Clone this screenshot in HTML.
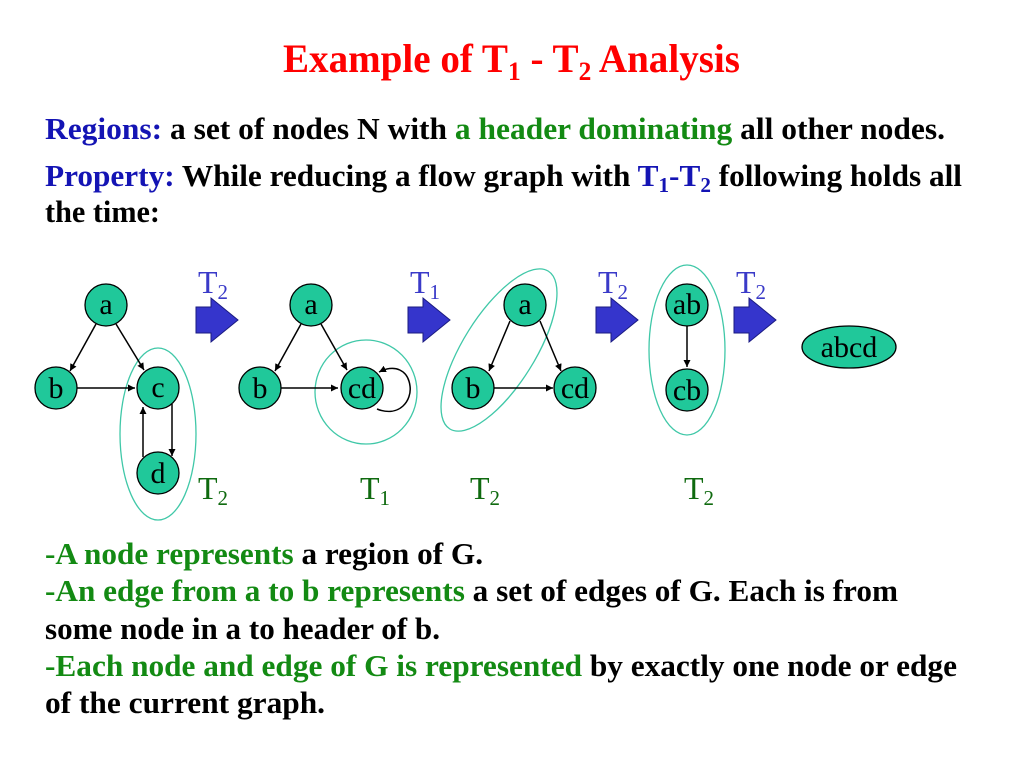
<!DOCTYPE html>
<html><head><meta charset="utf-8"><style>html,body{margin:0;padding:0;background:#fff}svg{display:block}svg text{font-family:"Liberation Serif","Times New Roman",serif}</style></head>
<body>
<svg width="1024" height="768" viewBox="0 0 1024 768" xmlns="http://www.w3.org/2000/svg">
<defs>
<marker id="ah" viewBox="0 0 10 10" refX="10" refY="5" markerWidth="7" markerHeight="7" orient="auto" markerUnits="userSpaceOnUse"><path d="M0,0 L10,5 L0,10 z" fill="#000"/></marker>
<g id="bar"><path d="M0,9 H15 V0 L42,22 L15,44 V35 H0 Z" fill="#3535cc" stroke="#1a1a80" stroke-width="1"/></g>
</defs>
<text x="283" y="72" font-size="40" font-weight="bold" fill="#f00" textLength="457" lengthAdjust="spacingAndGlyphs">Example of T<tspan font-size="26" dy="8">1</tspan><tspan dy="-8"> - T</tspan><tspan font-size="26" dy="8">2</tspan><tspan dy="-8"> Analysis</tspan></text>
<g font-weight="bold" font-size="31">
<text x="45" y="139" textLength="900" lengthAdjust="spacingAndGlyphs"><tspan fill="#1414b4">Regions:</tspan> a set of nodes N with <tspan fill="#138a13">a header dominating</tspan> all other nodes.</text>
<text x="45" y="186" textLength="917" lengthAdjust="spacingAndGlyphs"><tspan fill="#1414b4">Property:</tspan> While reducing a flow graph with <tspan fill="#1414b4">T<tspan font-size="21" dy="6">1</tspan><tspan dy="-6">-T</tspan><tspan font-size="21" dy="6">2</tspan></tspan><tspan dy="-6"> following holds all</tspan></text>
<text x="45" y="222" textLength="115" lengthAdjust="spacingAndGlyphs">the time:</text>
<text x="45" y="564" textLength="438" lengthAdjust="spacingAndGlyphs"><tspan fill="#138a13">-A node represents</tspan> a region of G.</text>
<text x="45" y="601" textLength="853" lengthAdjust="spacingAndGlyphs"><tspan fill="#138a13">-An edge from a to b represents</tspan> a set of edges of G. Each is from</text>
<text x="45" y="639" textLength="395" lengthAdjust="spacingAndGlyphs">some node in a to header of b.</text>
<text x="45" y="676" textLength="912" lengthAdjust="spacingAndGlyphs"><tspan fill="#138a13">-Each node and edge of G is represented</tspan> by exactly one node or edge</text>
<text x="45" y="713" textLength="280" lengthAdjust="spacingAndGlyphs">of the current graph.</text>
</g>
<g fill="none" stroke="#40c8a8" stroke-width="1.3">
<ellipse cx="158" cy="434" rx="38" ry="86"/>
<ellipse cx="366" cy="392" rx="51" ry="52"/>
<ellipse cx="499" cy="350" rx="36" ry="93" transform="rotate(32 499 350)"/>
<ellipse cx="687" cy="350" rx="38" ry="85"/>
</g>
<g stroke="#000" stroke-width="1.5" fill="none" marker-end="url(#ah)">
<line x1="96" y1="324" x2="70" y2="371"/>
<line x1="116" y1="324" x2="144" y2="370"/>
<line x1="77" y1="388" x2="135" y2="388"/>
<line x1="172" y1="404" x2="172" y2="456"/>
<line x1="143" y1="457" x2="143" y2="407"/>
<line x1="301" y1="324" x2="275" y2="371"/>
<line x1="321" y1="324" x2="347" y2="370"/>
<line x1="281" y1="388" x2="338" y2="388"/>
<path d="M377,409 C400,418 412,400 410,386 C408,370 395,364 379,372"/>
<line x1="510" y1="321" x2="489" y2="371"/>
<line x1="540" y1="321" x2="561" y2="371"/>
<line x1="494" y1="388" x2="553" y2="388"/>
<line x1="687" y1="326" x2="687" y2="367"/>
</g>
<g fill="#20c89a" stroke="#000" stroke-width="1.3">
<circle cx="106" cy="305" r="21"/><circle cx="56" cy="388" r="21"/><circle cx="158" cy="388" r="21"/><circle cx="158" cy="473" r="21"/>
<circle cx="311" cy="305" r="21"/><circle cx="260" cy="388" r="21"/><circle cx="362" cy="388" r="21"/>
<circle cx="525" cy="305" r="21"/><circle cx="473" cy="388" r="21"/><circle cx="575" cy="388" r="21"/>
<circle cx="687" cy="305" r="21"/><circle cx="687" cy="390" r="21"/>
<ellipse cx="849" cy="347" rx="47" ry="21"/>
</g>
<g font-size="30" text-anchor="middle" fill="#000">
<text x="106" y="314">a</text><text x="56" y="398">b</text><text x="158" y="397">c</text><text x="158" y="483">d</text>
<text x="311" y="314">a</text><text x="260" y="398">b</text><text x="362" y="398">cd</text>
<text x="525" y="314">a</text><text x="473" y="398">b</text><text x="575" y="398">cd</text>
<text x="687" y="314">ab</text><text x="687" y="400">cb</text>
<text x="849" y="357">abcd</text>
</g>
<use href="#bar" x="196" y="298"/>
<use href="#bar" x="408" y="298"/>
<use href="#bar" x="596" y="298"/>
<use href="#bar" x="734" y="298"/>
<g font-size="32" fill="#3a3ac8">
<text x="198" y="293">T<tspan font-size="21" dy="6">2</tspan></text>
<text x="410" y="293">T<tspan font-size="21" dy="6">1</tspan></text>
<text x="598" y="293">T<tspan font-size="21" dy="6">2</tspan></text>
<text x="736" y="293">T<tspan font-size="21" dy="6">2</tspan></text>
</g>
<g font-size="32" fill="#0f6a0f">
<text x="198" y="499">T<tspan font-size="21" dy="6">2</tspan></text>
<text x="360" y="499">T<tspan font-size="21" dy="6">1</tspan></text>
<text x="470" y="499">T<tspan font-size="21" dy="6">2</tspan></text>
<text x="684" y="499">T<tspan font-size="21" dy="6">2</tspan></text>
</g>
</svg>
</body></html>
